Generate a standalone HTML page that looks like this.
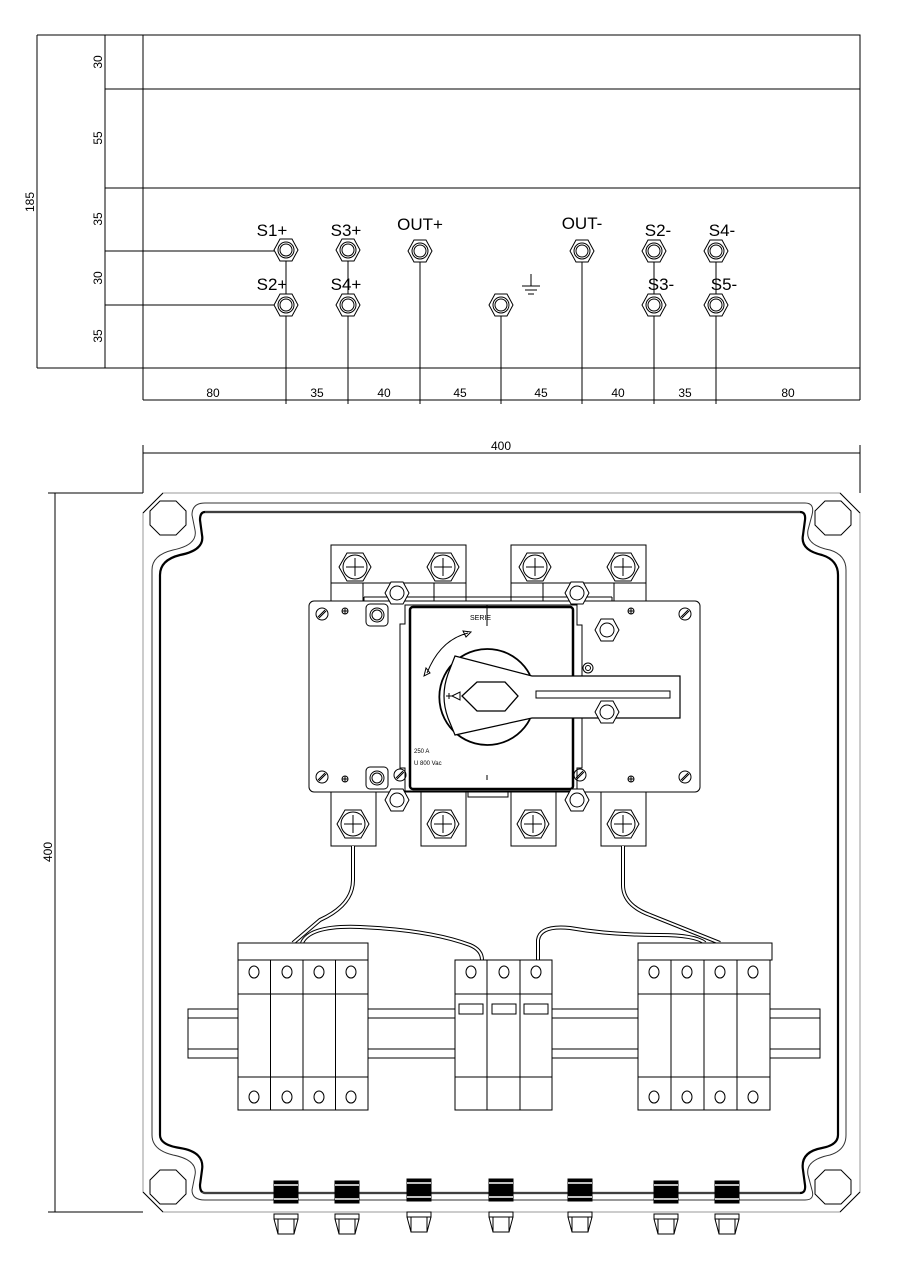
<!DOCTYPE html>
<html><head><meta charset="utf-8"><style>
html,body{margin:0;padding:0;background:#fff}
svg{display:block}
text{font-family:"Liberation Sans",Arial,sans-serif;fill:#000}
</style></head><body>
<svg width="897" height="1270" viewBox="0 0 897 1270" xmlns="http://www.w3.org/2000/svg" fill="none" stroke="#000" stroke-width="1">
<defs>
<g id="gl"><polygon points="-6,-11 6,-11 12,0 6,11 -6,11 -12,0"/><circle r="8"/><circle r="6"/></g>
<g id="bolt"><polygon points="-8,-14 8,-14 16,0 8,14 -8,14 -16,0"/><circle r="12"/><path d="M-9 0H9M0 -9V9"/></g>
<g id="nut"><polygon points="-6,-11 6,-11 12,0 6,11 -6,11 -12,0"/><circle r="7"/></g>
<g id="nut2"><rect x="-11" y="-11" width="22" height="22" rx="4"/><circle r="7"/><circle r="5"/></g>
<g id="scr"><circle r="6"/><path d="M-4 3L3 -4M-3 4L4 -3"/></g>
<g id="pl"><circle r="3"/><path d="M-3 0H3M0 -3V3"/></g>
<g id="cg"><rect x="-12" y="0" width="24" height="22" fill="#000"/><path d="M-12 4H12M-12 18H12" stroke="#fff" stroke-width="1.5"/><path d="M-12 33H12V38H-12Z"/><path d="M-12 38L-8 53H8L12 38M-8 38V53M8 38V53"/></g>
</defs>

<!-- TOP VIEW -->
<path d="M37 35H860V368H37M105 89H860M105 188H860M37 35V368M105 35V368M105 251H286M105 305H286"/>
<path d="M143 35V400M860 35V400"/>
<g font-size="12" stroke="none">
<text transform="translate(102,62) rotate(-90)" text-anchor="middle" fill="#000">30</text>
<text transform="translate(102,138) rotate(-90)" text-anchor="middle" fill="#000">55</text>
<text transform="translate(102,219) rotate(-90)" text-anchor="middle" fill="#000">35</text>
<text transform="translate(102,278) rotate(-90)" text-anchor="middle" fill="#000">30</text>
<text transform="translate(102,336) rotate(-90)" text-anchor="middle" fill="#000">35</text>
<text transform="translate(34,202) rotate(-90)" text-anchor="middle" fill="#000">185</text>
</g>
<path d="M143 400H860M286 250V404M348 250V404M420 251V404M501 305V404M582 251V404M654 251V404M716 251V404"/>
<g font-size="12" stroke="none" text-anchor="middle">
<text x="213" y="397" fill="#000">80</text><text x="317" y="397" fill="#000">35</text><text x="384" y="397" fill="#000">40</text><text x="460" y="397" fill="#000">45</text><text x="541" y="397" fill="#000">45</text><text x="618" y="397" fill="#000">40</text><text x="685" y="397" fill="#000">35</text><text x="788" y="397" fill="#000">80</text>
</g>
<g fill="#fff">
<use href="#gl" x="286" y="250"/><use href="#gl" x="348" y="250"/><use href="#gl" x="420" y="251"/><use href="#gl" x="582" y="251"/><use href="#gl" x="654" y="251"/><use href="#gl" x="716" y="251"/>
<use href="#gl" x="286" y="305"/><use href="#gl" x="348" y="305"/><use href="#gl" x="501" y="305"/><use href="#gl" x="654" y="305"/><use href="#gl" x="716" y="305"/>
</g>
<g font-size="17" stroke="none" text-anchor="middle">
<text x="272" y="236" fill="#000">S1+</text><text x="346" y="236" fill="#000">S3+</text><text x="420" y="230" fill="#000">OUT+</text><text x="582" y="229" fill="#000">OUT-</text><text x="658" y="236" fill="#000">S2-</text><text x="722" y="236" fill="#000">S4-</text>
<text x="272" y="290" fill="#000">S2+</text><text x="346" y="290" fill="#000">S4+</text><text x="661" y="290" fill="#000">S3-</text><text x="724" y="290" fill="#000">S5-</text>
</g>
<path d="M531 274V286M522 286H540M525 290H537M528 294H534"/>

<!-- FRONT VIEW dims -->
<path d="M143 453H860M143 445V493M860 445V493M55 493V1212M48 493H143M48 1212H143"/>
<text x="501" y="450" font-size="12" text-anchor="middle" stroke="none" fill="#000">400</text>
<text transform="translate(52,852) rotate(-90)" font-size="12" text-anchor="middle" stroke="none" fill="#000">400</text>

<!-- enclosure -->
<path d="M163 493H840L860 513V1192L840 1212H163L143 1192V513Z" stroke="#999"/>
<path d="M143 513L163 493M860 513L840 493M143 1192L163 1212M860 1192L840 1212"/>
<g fill="#fff"><polygon points="160,501 176,501 186,511 186,525 176,535 160,535 150,525 150,511"/>
<polygon points="825,501 841,501 851,511 851,525 841,535 825,535 815,525 815,511"/>
<polygon points="160,1170 176,1170 186,1180 186,1194 176,1204 160,1204 150,1194 150,1180"/>
<polygon points="825,1170 841,1170 851,1180 851,1194 841,1204 825,1204 815,1194 815,1180"/></g>
<path d="M205 503H805Q815 503 812 515L808 530Q805 545 830 550Q846 555 846 570V1135Q846 1150 830 1155Q805 1160 808 1175L812 1190Q815 1200 805 1200H205Q192 1200 192 1190L195 1175Q198 1160 173 1155Q152 1150 152 1135V570Q152 555 173 550Q198 545 195 530L192 515Q192 503 205 503Z" stroke="#333"/>
<path d="M205 512H800Q806 512 805 520L803 535Q800 550 822 555Q838 560 838 575V1135Q838 1145 822 1148Q800 1152 803 1170L805 1185Q806 1193 800 1193H205Q200 1193 200 1185L202 1170Q205 1152 180 1148Q160 1145 160 1135V575Q160 560 180 555Q205 550 202 535L200 520Q200 512 205 512Z" stroke-width="2.2"/>
<path d="M205 512H800M200 1193H800" stroke="#fff" stroke-width="0.6"/>

<!-- switch -->
<rect x="331" y="545" width="135" height="38" fill="#fff"/><rect x="511" y="545" width="135" height="38" fill="#fff"/>
<path d="M331 583V601M466 583V601M511 583V601M646 583V601M363 583V601M434 583V601M543 583V601M614 583V601"/>
<path d="M364 597H612M364 597V622M612 597V615"/>
<use href="#bolt" x="355" y="567" fill="#fff"/><use href="#bolt" x="443" y="567" fill="#fff"/><use href="#bolt" x="535" y="567" fill="#fff"/><use href="#bolt" x="623" y="567" fill="#fff"/>
<rect x="309" y="601" width="391" height="191" rx="5" fill="#fff"/>
<rect x="331" y="792" width="45" height="54" fill="#fff"/><rect x="421" y="792" width="45" height="54" fill="#fff"/><rect x="511" y="792" width="45" height="54" fill="#fff"/><rect x="601" y="792" width="45" height="54" fill="#fff"/>
<use href="#bolt" x="353" y="824" fill="#fff"/><use href="#bolt" x="443" y="824" fill="#fff"/><use href="#bolt" x="533" y="824" fill="#fff"/><use href="#bolt" x="623" y="824" fill="#fff"/>
<path d="M400 624H405V605H577V625H582V768H577V791H405V768H400Z" fill="#fff"/>
<path d="M468 792V797H508V792"/>
<rect x="410" y="607" width="163" height="182" rx="3" stroke-width="2.5" fill="#fff"/>
<use href="#nut" x="397" y="593" fill="#fff"/><use href="#nut" x="577" y="593" fill="#fff"/>
<use href="#nut" x="397" y="800" fill="#fff"/><use href="#nut" x="577" y="800" fill="#fff"/>
<use href="#nut2" x="377" y="615" fill="#fff"/><use href="#nut2" x="377" y="778" fill="#fff"/>
<use href="#nut" x="607" y="630" fill="#fff"/>
<use href="#scr" x="322" y="614"/><use href="#scr" x="322" y="777"/><use href="#scr" x="685" y="614"/><use href="#scr" x="685" y="777"/><use href="#scr" x="400" y="775"/><use href="#scr" x="580" y="775"/>
<use href="#pl" x="345" y="611"/><use href="#pl" x="345" y="779"/><use href="#pl" x="631" y="611"/><use href="#pl" x="631" y="779"/>
<path d="M487 605V626"/><text x="470" y="620" font-size="7" stroke="none" fill="#000">SERIE</text>
<path d="M427 673Q440 640 468 633M424 676l2 -8 4 5ZM471 632l-8 -1 3 6Z"/>
<path d="M530 675A48 48 0 1 0 530 719" stroke-width="1.8"/>
<path d="M448 674L455 656L532 676H680V718H532L455 735L448 718Q440 696 448 674Z" fill="#fff" stroke-width="1.2"/>
<polygon points="462,696 477,682 505,682 518,696 505,711 477,711" stroke-width="1.3"/>
<path d="M536 691H670V698H536Z"/><path d="M446 696H452M449 693V699M452 696l8 -4v8Z"/>
<use href="#nut" x="607" y="712" fill="#fff"/><circle cx="588" cy="668" r="5"/><circle cx="588" cy="668" r="2.5"/>
<g font-size="6" stroke="none"><text x="414" y="753" fill="#000">250 A</text><text x="414" y="765" fill="#000">U  800 Vac</text></g>
<path d="M487 775V780"/>

<!-- wires -->
<g stroke-width="4" stroke="#000"><path d="M353 846V880Q353 905 320 920L293 943M623 846V885Q623 905 650 915L720 943"/></g>
<g stroke-width="2" stroke="#fff"><path d="M353 846V880Q353 905 320 920L293 943M623 846V885Q623 905 650 915L720 943"/></g>
<g stroke-width="4"><path d="M302 943Q310 925 360 927Q430 930 470 945Q482 950 482 960"/><path d="M538 960V940Q540 925 570 928Q610 935 660 935Q695 935 705 943"/></g>
<g stroke-width="2" stroke="#fff"><path d="M302 943Q310 925 360 927Q430 930 470 945Q482 950 482 960"/><path d="M538 960V940Q540 925 570 928Q610 935 660 935Q695 935 705 943"/></g>

<!-- DIN rail -->
<path d="M188 1009H820V1058H188Z M188 1018H820M188 1049H820" fill="#fff"/>
<!-- terminal groups -->
<g fill="#fff">
<rect x="238" y="943" width="130" height="17"/><rect x="238" y="960" width="130" height="150"/>
<rect x="455" y="960" width="97" height="150"/>
<rect x="638" y="943" width="134" height="17"/><rect x="638" y="960" width="132" height="150"/>
</g>
<path d="M238 994H368M238 1077H368M270.5 960V1110M303 960V1110M335.5 960V1110"/>
<path d="M455 994H552M455 1077H552M487 960V1110M520 960V1110"/>
<path d="M638 994H770M638 1077H770M671 960V1110M704 960V1110M737 960V1110"/>
<g stroke="#fff" fill="#fff"><rect x="239" y="1010" width="128" height="48" stroke="none"/><rect x="456" y="1010" width="95" height="48" stroke="none"/><rect x="639" y="1010" width="130" height="48" stroke="none"/></g>
<path d="M238 994V1077M270.5 994V1077M303 994V1077M335.5 994V1077M368 994V1077M455 994V1077M487 994V1077M520 994V1077M552 994V1077M638 994V1077M671 994V1077M704 994V1077M737 994V1077M770 994V1077"/>
<rect x="459" y="1004" width="24" height="10"/><rect x="492" y="1004" width="24" height="10"/><rect x="524" y="1004" width="24" height="10"/>
<g>
<ellipse cx="254" cy="972" rx="5" ry="6"/><ellipse cx="287" cy="972" rx="5" ry="6"/><ellipse cx="319" cy="972" rx="5" ry="6"/><ellipse cx="351" cy="972" rx="5" ry="6"/>
<ellipse cx="254" cy="1097" rx="5" ry="6"/><ellipse cx="287" cy="1097" rx="5" ry="6"/><ellipse cx="319" cy="1097" rx="5" ry="6"/><ellipse cx="351" cy="1097" rx="5" ry="6"/>
<ellipse cx="471" cy="972" rx="5" ry="6"/><ellipse cx="504" cy="972" rx="5" ry="6"/><ellipse cx="536" cy="972" rx="5" ry="6"/>
<ellipse cx="654" cy="972" rx="5" ry="6"/><ellipse cx="687" cy="972" rx="5" ry="6"/><ellipse cx="720" cy="972" rx="5" ry="6"/><ellipse cx="753" cy="972" rx="5" ry="6"/>
<ellipse cx="654" cy="1097" rx="5" ry="6"/><ellipse cx="687" cy="1097" rx="5" ry="6"/><ellipse cx="720" cy="1097" rx="5" ry="6"/><ellipse cx="753" cy="1097" rx="5" ry="6"/>
</g>

<!-- cable glands bottom -->
<use href="#cg" x="286" y="1181"/><use href="#cg" x="347" y="1181"/><use href="#cg" x="419" y="1179"/><use href="#cg" x="501" y="1179"/><use href="#cg" x="580" y="1179"/><use href="#cg" x="666" y="1181"/><use href="#cg" x="727" y="1181"/>
</svg>
</body></html>
